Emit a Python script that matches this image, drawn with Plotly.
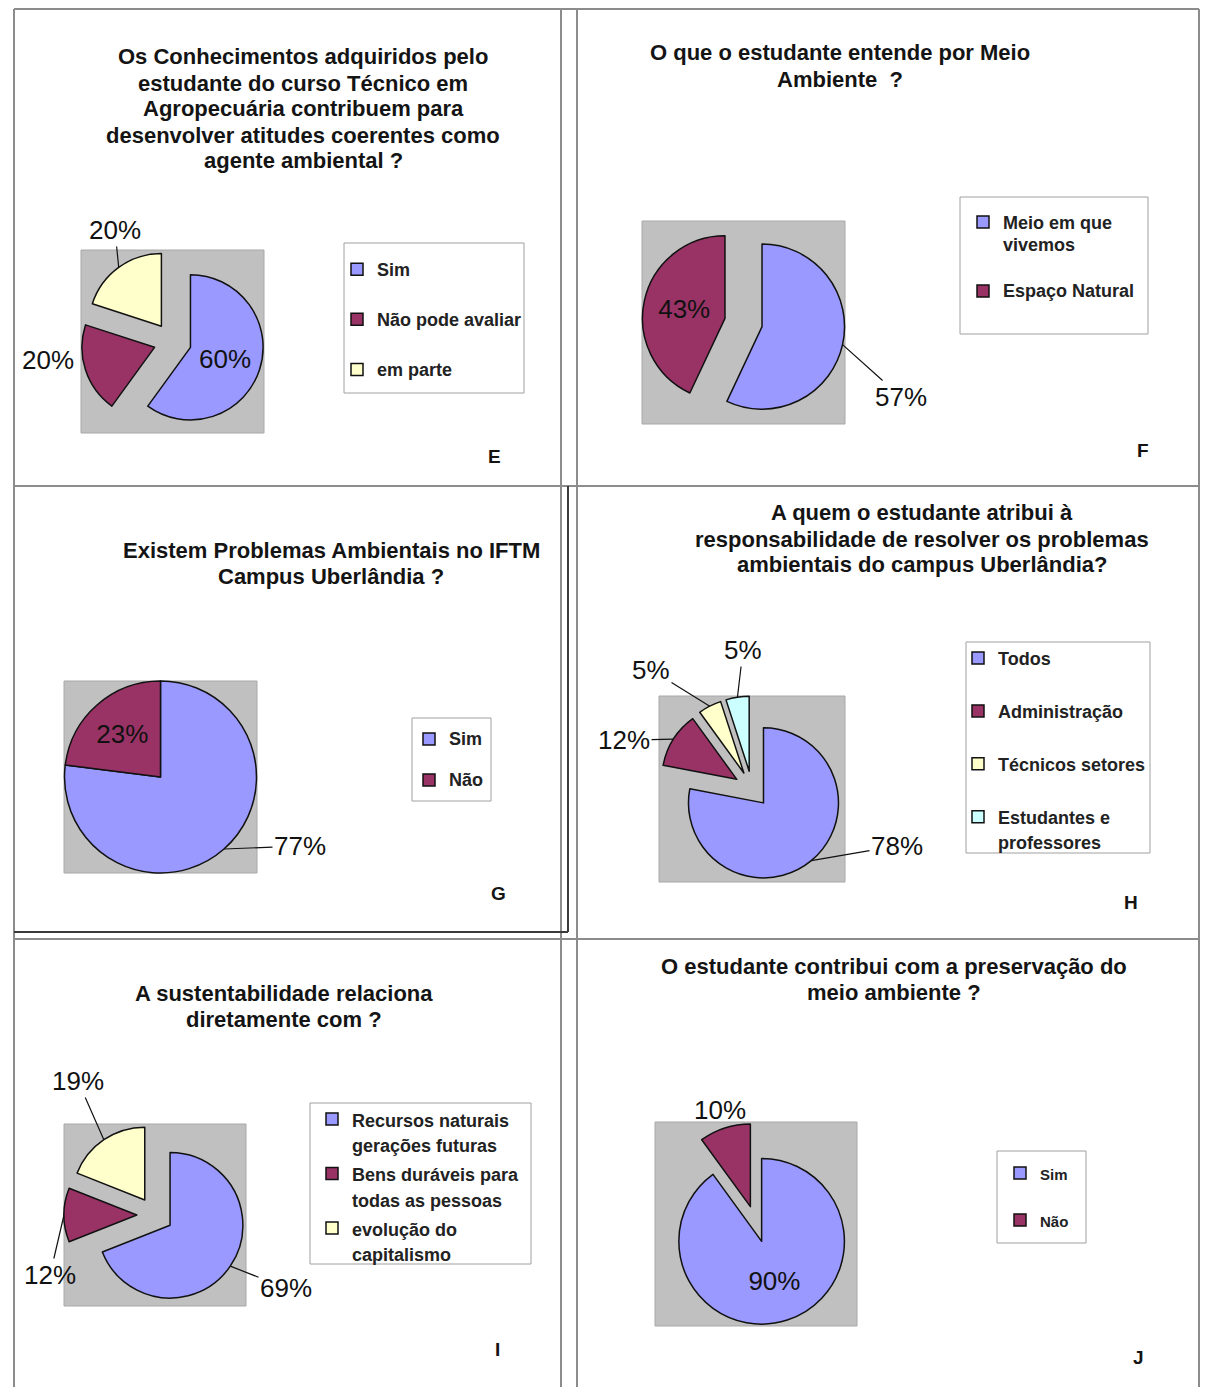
import math
import plotly.graph_objects as go

W, H = 1208, 1387

# ---------------- data ----------------
e_title = ["Os Conhecimentos adquiridos pelo", "estudante do curso Técnico em",
           "Agropecuária contribuem para", "desenvolver atitudes coerentes como",
           "agente ambiental ?"]
e_labels = ["Sim", "Não pode avaliar", "em parte"]
e_values = [60, 20, 20]

f_title = ["O que o estudante entende por Meio", "Ambiente  ?"]
f_labels = ["Meio em que<br>vivemos", "Espaço Natural"]
f_values = [57, 43]

g_title = ["Existem Problemas Ambientais no IFTM", "Campus Uberlândia ?"]
g_labels = ["Sim", "Não"]
g_values = [77, 23]

h_title = ["A quem o estudante atribui à", "responsabilidade de resolver os problemas",
           "ambientais do campus Uberlândia?"]
h_labels = ["Todos", "Administração", "Técnicos setores", "Estudantes e<br>professores"]
h_values = [78, 12, 5, 5]

i_title = ["A sustentabilidade relaciona", "diretamente com ?"]
i_labels = ["Recursos naturais<br>gerações futuras", "Bens duráveis para<br>todas as pessoas",
            "evolução do<br>capitalismo"]
i_values = [69, 12, 19]

j_title = ["O estudante contribui com a preservação do", "meio ambiente ?"]
j_labels = ["Sim", "Não"]
j_values = [90, 10]

panel_letters = ["E", "F", "G", "H", "I", "J"]

# ---------------- styles ----------------
FONT = "Liberation Sans, Arial, Helvetica, sans-serif"
BLUE, MAROON, YELLOW, CYAN = "#9999FF", "#993366", "#FFFFCC", "#CCFFFF"
INK = "#111111"


def fx(x):
    return x / W


def fy(y):
    return 1 - y / H


# label placement per slice: "in" -> inside the slice, or (label_x, label_y, leader_line)
panels = [
    dict(title=e_title, tx=303, ty=57, labels=e_labels, values=e_values,
         colors=[BLUE, MAROON, YELLOW], pull=0.26, box=(81, 250, 264, 433),
         place=["in", (48, 360, False), (115, 230, True)],
         legbox=(344, 243, 524, 393), legx=337, legy=251, blank=[1, 1, 1], lfs=18.1, vis=18,
         letter=(494, 456)),
    dict(title=f_title, tx=840, ty=53, labels=f_labels, values=f_values,
         colors=[BLUE, MAROON], pull=0.23, box=(642, 221, 845, 424),
         place=[(901, 397, True), "in"],
         legbox=(960, 197, 1148, 334), legx=963, legy=204.5, blank=[1, 0], lfs=16.9, vis=18,
         letter=(1143, 450)),
    dict(title=g_title, tx=331, ty=550, labels=g_labels, values=g_values,
         colors=[BLUE, MAROON], pull=0.0, box=(64, 681, 257, 873),
         place=[(300, 846, True), "in"],
         legbox=(412, 718, 491, 801), legx=409, legy=723, blank=[1, 1], lfs=14.6, vis=18,
         letter=(499, 893)),
    dict(title=h_title, tx=922, ty=513, labels=h_labels, values=h_values,
         colors=[BLUE, MAROON, YELLOW, CYAN], pull=0.24, box=(659, 696, 845, 882),
         place=[(897, 846, True), (624, 740, True), (651, 670, True), (743, 650, True)],
         legbox=(966, 642, 1150, 853), legx=958, legy=639, blank=[1, 1, 1, 0], lfs=19.2, vis=18,
         letter=(1131, 902)),
    dict(title=i_title, tx=284, ty=993, labels=i_labels, values=i_values,
         colors=[BLUE, MAROON, YELLOW], pull=0.25, box=(64, 1124, 246, 1306),
         place=[(286, 1288, True), (50, 1275, True), (78, 1081, True)],
         legbox=(310, 1103, 531, 1264), legx=312, legy=1099.6, blank=[0, 0, 0], lfs=19.8, vis=18,
         letter=(497, 1349)),
    dict(title=j_title, tx=894, ty=966, labels=j_labels, values=j_values,
         colors=[BLUE, MAROON], pull=0.22, box=(655, 1122, 857, 1326),
         place=["in", (720, 1110, False)],
         legbox=(997, 1151, 1086, 1243), legx=1000, legy=1155.5, blank=[1, 1], lfs=16.9, vis=15,
         letter=(1138, 1357)),
]

fig = go.Figure()
shapes = []
annotations = []
layout_legends = {}


def legend_label(text, size, blank):
    parts = ["<span style='font-size:%dpx'>%s</span>" % (size, t) for t in text.split("<br>")]
    return "<br>".join(parts) + ("<br> " if blank else "")


for k, p in enumerate(panels):
    x0, y0, x1, y1 = p["box"]
    cx, cy, R = (x0 + x1) / 2, (y0 + y1) / 2, min(x1 - x0, y1 - y0) / 2
    # gray plot area
    shapes.append(dict(type="rect", xref="paper", yref="paper",
                       x0=fx(x0), x1=fx(x1), y0=fy(y1), y1=fy(y0),
                       fillcolor="#C0C0C0", line=dict(color="#A8A8A8", width=1), layer="below"))
    # legend frame
    lx0, ly0, lx1, ly1 = p["legbox"]
    shapes.append(dict(type="rect", xref="paper", yref="paper",
                       x0=fx(lx0), x1=fx(lx1), y0=fy(ly1), y1=fy(ly0),
                       fillcolor="white", line=dict(color="#A0A0A0", width=1), layer="below"))

    values = p["values"]
    n = len(values)
    total = float(sum(values))
    leg_id = "legend" if k == 0 else "legend%d" % (k + 1)
    textpos = ["inside" if pl == "in" else "none" for pl in p["place"]]
    fig.add_trace(go.Pie(
        labels=[legend_label(t, p["vis"], b) for t, b in zip(p["labels"], p["blank"])],
        values=values, sort=False, direction="clockwise", rotation=0,
        marker=dict(colors=p["colors"], line=dict(color=INK, width=1.5)),
        pull=[p["pull"]] * n,
        domain=dict(x=[fx(x0), fx(x1)], y=[fy(y1), fy(y0)]),
        texttemplate="%{value}%", textposition=textpos,
        textfont=dict(family=FONT, size=26, color=INK),
        insidetextorientation="horizontal",
        legend=leg_id, legendgroup=panel_letters[k], showlegend=True,
        hoverinfo="percent",
    ))
    # outside percentage labels with leader lines, anchored on the slice edge (from the data)
    cum = 0.0
    for i, v in enumerate(values):
        mid = (cum + v / 2.0) / total
        cum += v
        pl = p["place"][i]
        if pl == "in":
            continue
        th = 2 * math.pi * mid
        axp, ayp = cx + R * math.sin(th), cy - R * math.cos(th)
        lx, ly, line = pl
        if line:
            annotations.append(dict(text="%d%%" % v, xref="paper", yref="paper",
                                    x=fx(axp), y=fy(ayp), ax=lx - axp, ay=ly - ayp,
                                    showarrow=True, arrowhead=0, arrowwidth=1.2, arrowcolor=INK,
                                    standoff=0, startstandoff=0,
                                    font=dict(family=FONT, size=26, color=INK)))
        else:
            annotations.append(dict(text="%d%%" % v, xref="paper", yref="paper",
                                    x=fx(axp), y=fy(ayp), xshift=lx - axp, yshift=-(ly - ayp),
                                    xanchor="center", yanchor="middle", showarrow=False,
                                    font=dict(family=FONT, size=26, color=INK)))

    layout_legends[leg_id] = dict(
        x=fx(p["legx"]), y=fy(p["legy"]), xanchor="left", yanchor="top",
        bgcolor="rgba(0,0,0,0)", borderwidth=0,
        font=dict(family=FONT, size=p["lfs"], color="#222222", weight=700),
        valign="top",
    )
    for li, line_text in enumerate(p["title"]):
        annotations.append(dict(text="<b>" + line_text + "</b>", xref="paper", yref="paper",
                                x=fx(p["tx"]), y=fy(p["ty"] + 26 * li), xanchor="center",
                                yanchor="middle", showarrow=False,
                                font=dict(family=FONT, size=22, color="#141414")))
    lx, ly = p["letter"]
    annotations.append(dict(text="<b>" + panel_letters[k] + "</b>", xref="paper", yref="paper",
                            x=fx(lx), y=fy(ly), xanchor="center", yanchor="middle",
                            showarrow=False, font=dict(family=FONT, size=19, color="#141414")))

# table borders
GRAY = "#8C8C8C"
DARK = "#3A3A3A"
border_lines = [
    (14, 9, 1199, 9, GRAY), (14, 486, 1199, 486, GRAY), (14, 939, 1199, 939, GRAY),
    (14, 9, 14, 1387, GRAY), (1199, 9, 1199, 1387, GRAY),
    (561, 9, 561, 1387, GRAY), (577, 9, 577, 1387, GRAY),
    (568, 486, 568, 932, DARK), (14, 932, 568, 932, DARK),
]
for (ax_, ay_, bx_, by_, col) in border_lines:
    shapes.append(dict(type="line", xref="paper", yref="paper",
                       x0=fx(ax_), y0=fy(ay_), x1=fx(bx_), y1=fy(by_),
                       line=dict(color=col, width=2), layer="below"))

fig.update_layout(
    width=W, height=H, margin=dict(l=0, r=0, t=0, b=0, pad=0),
    paper_bgcolor="white", plot_bgcolor="white",
    shapes=shapes, annotations=annotations, showlegend=True,
    **layout_legends,
)

fig.write_html("out.html")
